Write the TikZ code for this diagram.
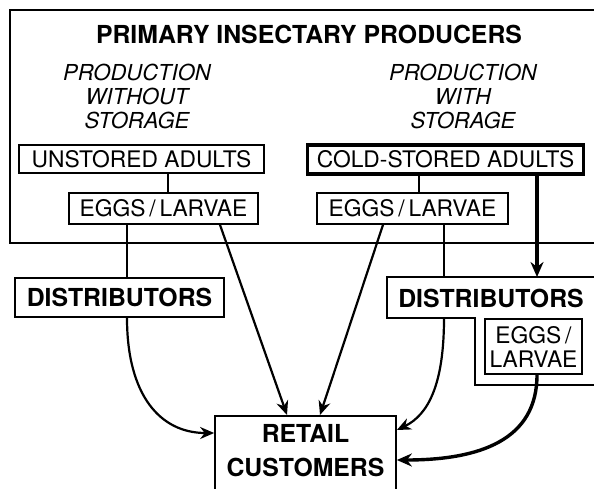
\documentclass[tikz,border=0pt]{standalone}
\usepackage{fontspec}
\setmainfont{TeX Gyre Heros}
\usetikzlibrary{arrows.meta,calc}
\begin{document}
\begin{tikzpicture}[x=1pt,y=-1pt,
  box/.style={draw,line width=1.7pt,inner sep=0pt,align=center},
  reg/.style={font=\fontsize{22.8}{25}\selectfont},
  bld/.style={font=\fontsize{24.8}{34}\selectfont\bfseries},
  ital/.style={font=\fontsize{22}{24}\selectfont\itshape,align=center,inner sep=0pt},
  conn/.style={line width=1.8pt},
  arr/.style={line width=2.2pt,-{Stealth[length=14pt,width=12pt]}},
  tarr/.style={line width=3.4pt,-{Stealth[length=15pt,width=13pt]}}]
\useasboundingbox (0,0) rectangle (594,488);
\clip (0,0) rectangle (594,488);
% outer producers frame (open to the right)
\node[draw,line width=1.7pt,minimum width=640pt,minimum height=233pt,inner sep=0pt,anchor=north west] (prod) at (9,9) {};
\node[bld,inner sep=0pt] (title) at (309,34) {PRIMARY INSECTARY PRODUCERS};
\node[ital] (wo) at (137,96) {PRODUCTION\\WITHOUT\\STORAGE};
\node[ital] (wi) at (463,96) {PRODUCTION\\WITH\\STORAGE};
% boxes
\node[box,reg,minimum width=245pt,minimum height=28pt] (unst) at (141.5,159) {UNSTORED ADULTS};
\node[box,reg,line width=3.6pt,minimum width=276pt,minimum height=29pt] (cold) at (445.5,159.5) {COLD-STORED ADULTS};
\node[box,reg,minimum width=189pt,minimum height=31pt] (eggsA) at (163.5,208.5) {EGGS\,/\,LARVAE};
\node[box,reg,minimum width=191pt,minimum height=31pt] (eggsB) at (412.5,208.5) {EGGS\,/\,LARVAE};
\node[box,bld,minimum width=209pt,minimum height=39pt] (distA) at (119.5,297.5) {DISTRIBUTORS};
% right distributors (L-shaped frame)
\draw[line width=1.7pt] (387,277) -- (640,277) -- (640,385) -- (475,385) -- (475,318) -- (387,318) -- cycle;
\node[bld,inner sep=0pt] (distB) at (491,298) {DISTRIBUTORS};
\coordinate (distBtop) at (444,277);
\coordinate (distBarr) at (537,277);
\coordinate (distBbot) at (444,318);
\node[box,minimum width=97pt,minimum height=55pt,font=\fontsize{22.8}{24}\selectfont] (eggsC) at (533.5,346.5) {EGGS\,/\\LARVAE};
% retail
\node[box,minimum width=181pt,minimum height=120pt,anchor=north] (retail) at (305.5,415) {};
\node[bld,align=center,inner sep=0pt] (retailtxt) at (305.5,451) {RETAIL\\CUSTOMERS};
% connectors
\draw[conn] (unst.south -| 168,0) -- (eggsA.north -| 168,0);
\draw[conn] (cold.south -| 419,0) -- (eggsB.north -| 419,0);
\draw[tarr] (cold.south -| distBarr) -- (distBarr);
\draw[conn] (eggsA.south -| 127,0) -- (distA.north -| 127,0);
\draw[conn] (eggsB.south -| distBtop) -- (distBtop);
\draw[arr] (eggsA.south -| 220,0) -- (retail.north -| 287,0);
\draw[arr] (eggsB.south -| 383,0) -- (retail.north -| 320,0);
\draw[arr] (distA.south -| 127,0) .. controls (127,395) and (160,433) .. (retail.west |- 0,433);
\draw[arr] (distBbot) .. controls (444,385) and (428,415) .. (retail.east |- 0,430);
\draw[tarr] (eggsC.south -| 537,0) .. controls (537,440) and (480,460) .. (retail.east |- 0,460);
\end{tikzpicture}
\end{document}
